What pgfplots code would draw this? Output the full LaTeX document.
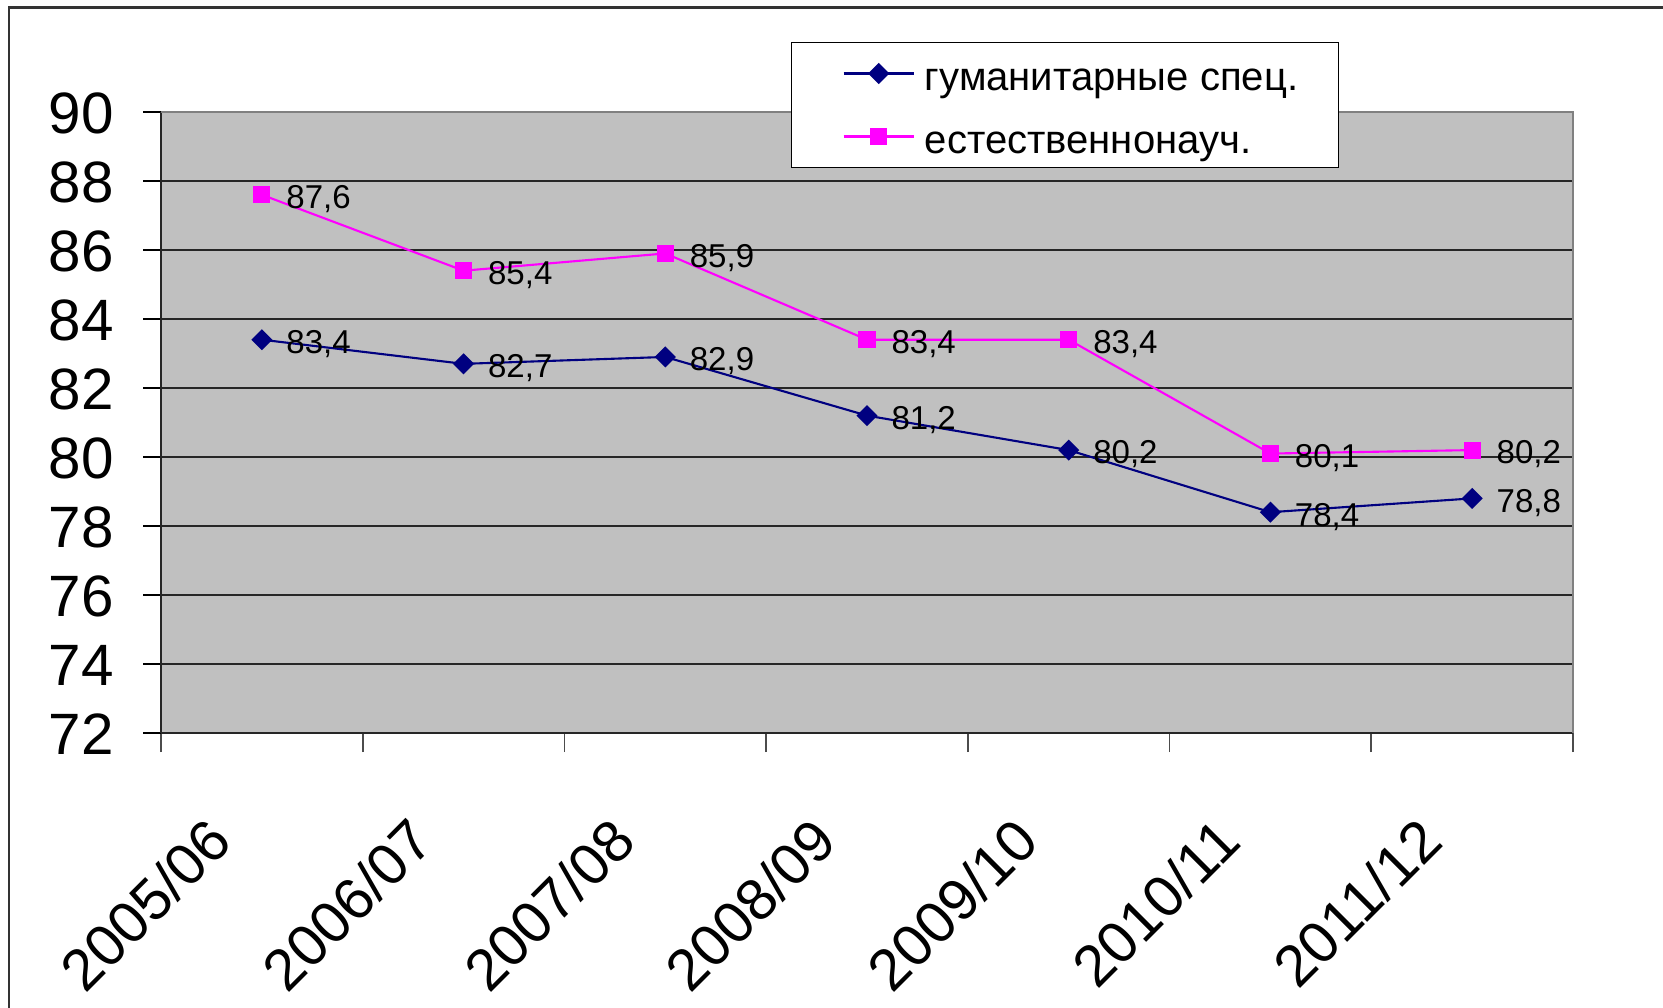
\documentclass[border=0pt]{standalone}
\usepackage{pgfplots}
\pgfplotsset{compat=1.18}
\usepackage{fontspec}
\setmainfont{Liberation Sans}
\definecolor{chartgray}{HTML}{C0C0C0}
\definecolor{bordergray}{HTML}{808080}
\definecolor{navyline}{HTML}{000080}
\definecolor{pinkline}{HTML}{FF00FF}
\pgfkeys{/pgf/number format/assume math mode=true}

\begin{document}
\begin{tikzpicture}
\path[use as bounding box, fill=white] (0,0) rectangle (166.3mm,100.7mm);
\draw[line width=0.6pt, black!80] (0.93mm,-2mm) -- (0.93mm,99.95mm) -- (170mm,99.95mm);
\begin{axis}[
  at={(16.1mm,27.4mm)}, anchor=south west,
  scale only axis, width=141.2mm, height=62.1mm,
  xmin=-0.5, xmax=6.5, ymin=72, ymax=90,
  axis x line*=bottom, axis y line*=left,
  axis line style={black!85, line width=0.6pt},
  axis background/.style={fill=chartgray},
  clip=false,
  ytick={72,74,...,90},
  ymajorgrids, major grid style={black!85, line width=0.45pt},
  xtick={0,...,6},
  xticklabels={2005/06,2006/07,2007/08,2008/09,2009/10,2010/11,2011/12},
  minor xtick={-0.5,0.5,...,6.5},
  tick align=outside,
  major tick length=1.8mm, minor tick length=1.9mm,
  major x tick style={draw=none},
  minor x tick style={black!70, line width=0.5pt},
  major y tick style={black, line width=0.5pt},
  ticklabel style={font=\fontsize{16.6}{20}\selectfont},
  yticklabel style={anchor=east, inner sep=0pt, xshift=-2.85mm, yshift=-0.1mm},
  xticklabel style={inner sep=0pt, xshift=-5.7mm, yshift=-6.3mm, rotate=45, anchor=north east},
  nodes near coords={\pgfmathprintnumber[fixed, fixed zerofill, precision=1, use comma]{\pgfplotspointmeta}},
  every node near coord/.append style={anchor=west, inner sep=0pt, xshift=2.35mm, yshift=-0.44mm,
    font=\fontsize{9.4}{11}\selectfont, text=black},
  legend style={at={(0.6402,1.0113)}, anchor=center, draw=black, fill=white,
    font=\fontsize{11.4}{14}\selectfont, inner xsep=4mm, inner ysep=1.0mm,
    row sep=2.1mm, column sep=1mm,
    nodes={inner sep=0pt, text height=3.85mm, text depth=0.35mm}},
  legend cell align=left,
  legend image code/.code={\path (0mm,0mm);
    \draw[mark repeat=2, mark phase=2, #1] plot coordinates {(1.1mm,0mm) (4.6mm,0mm) (8.1mm,0mm)};},
]
\addplot[navyline, line width=0.6pt, mark=square*, mark size=0.64mm,
  mark options={rotate=45, solid}] coordinates {
  (0,83.4) (1,82.7) (2,82.9) (3,81.2) (4,80.2) (5,78.4) (6,78.8)
};
\addlegendentry{гуманитарные спец.}
\addplot[pinkline, line width=0.6pt, mark=square*, mark size=0.75mm] coordinates {
  (0,87.6) (1,85.4) (2,85.9) (3,83.4) (4,83.4) (5,80.1) (6,80.2)
};
\addlegendentry{естественнонауч.}
\draw[bordergray, line width=0.7pt] (rel axis cs:0,1) -- (rel axis cs:1,1) -- (rel axis cs:1,0);
\end{axis}
\end{tikzpicture}
\end{document}
